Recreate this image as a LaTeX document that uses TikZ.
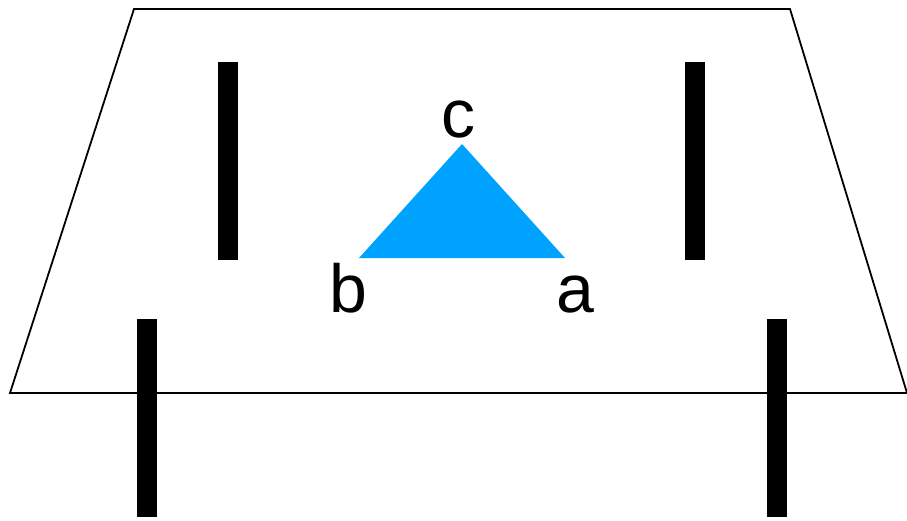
\documentclass[tikz,border=0pt]{standalone}
\usepackage{fontspec}
\setmainfont{Liberation Sans}
\definecolor{triblue}{HTML}{00A2FF}
\tikzset{
  bar/.style={fill=black, draw=none},
  lbl/.style={font=\fontsize{68}{68}\selectfont, inner sep=0pt, anchor=base},
  plane/.style={draw=black, line width=1.8pt, line join=miter}
}
\begin{document}
\begin{tikzpicture}[x=1pt, y=-1pt]
\useasboundingbox (0,0) rectangle (907,520);
% plane
\draw[plane] (134,9) -- (790,9) -- (907,393) -- (10,393) -- cycle;
% back bars
\path[bar] (218,62) rectangle (238,260);
\path[bar] (685,62) rectangle (705,260);
% front bars
\path[bar] (137,319) rectangle (157,517);
\path[bar] (767,319) rectangle (787,517);
% triangle
\coordinate (A) at (565,258);
\coordinate (B) at (359,258);
\coordinate (C) at (462,144);
\fill[triblue] (A) -- (B) -- (C) -- cycle;
% labels
\node[lbl] (lc) at (458,137) {c};
\node[lbl] (lb) at (348,312) {b};
\node[lbl] (la) at (575,312) {a};
\end{tikzpicture}
\end{document}
